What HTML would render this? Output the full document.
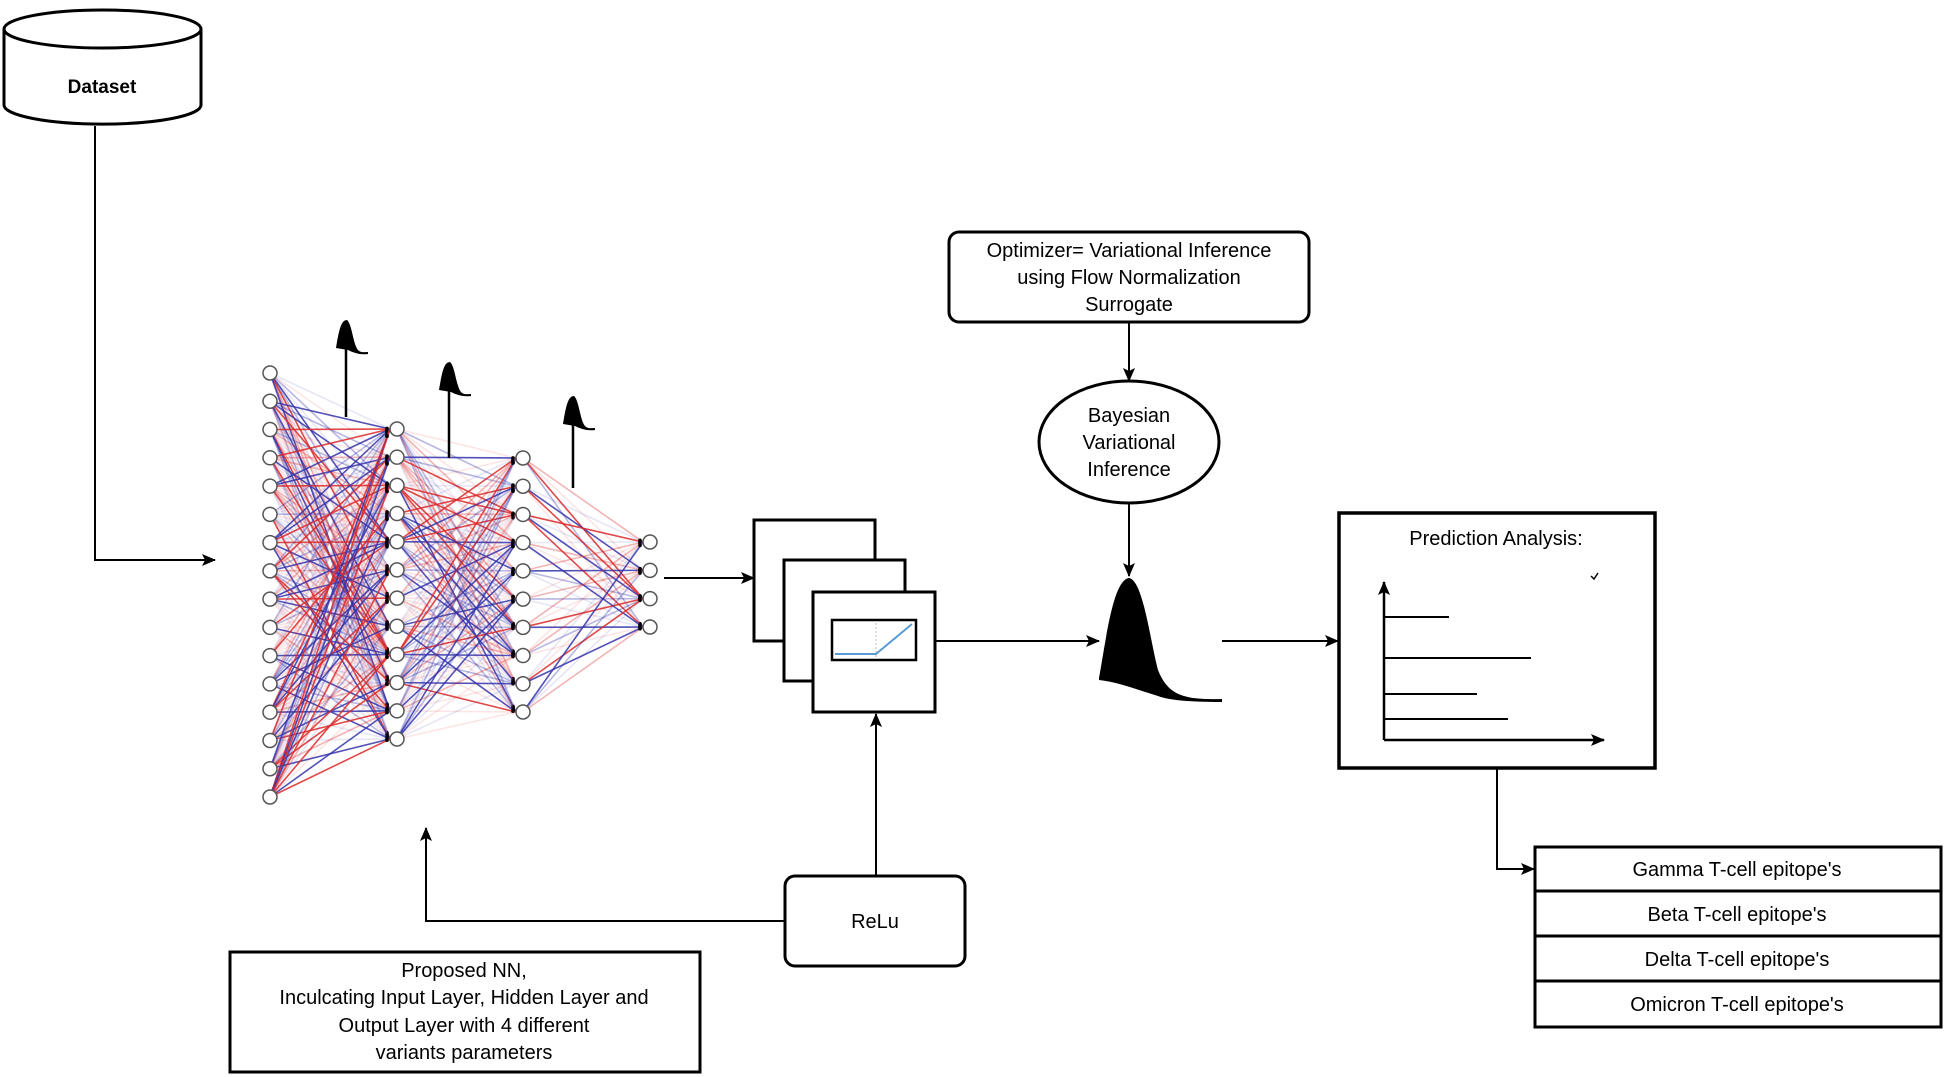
<!DOCTYPE html>
<html><head><meta charset="utf-8"><style>
html,body{margin:0;padding:0;background:#fff;}
svg{display:block;}
text{font-family:"Liberation Sans",sans-serif;fill:#000;}
</style></head><body>
<svg id="s" width="1945" height="1077" viewBox="0 0 1945 1077" xmlns="http://www.w3.org/2000/svg">
<defs>
<marker id="ar" markerWidth="14" markerHeight="12" refX="13" refY="6" orient="auto" markerUnits="userSpaceOnUse">
<path d="M0,0 L14,6 L0,12 L3,6 Z" fill="#000"/></marker>
</defs>
<g transform="translate(-2,0)">
<g id="net"></g>
<path d="M6,29 L6,105 A98,19 0 0 0 203,105 L203,29" fill="#fff" stroke="#000" stroke-width="3"/>
<ellipse cx="104.5" cy="29" rx="98.5" ry="19" fill="#fff" stroke="#000" stroke-width="3"/>
<text x="104" y="93" font-size="19" font-weight="bold" text-anchor="middle">Dataset</text>
<path d="M97,126 L97,560 L217,560" fill="none" stroke="#000" stroke-width="2" marker-end="url(#ar)"/>

<rect x="951" y="232" width="360" height="90" rx="10" fill="#fff" stroke="#000" stroke-width="3"/>
<text x="1131" y="257" font-size="20" text-anchor="middle">Optimizer= Variational Inference</text>
<text x="1131" y="284" font-size="20" text-anchor="middle">using Flow Normalization</text>
<text x="1131" y="311" font-size="20" text-anchor="middle">Surrogate</text>
<path d="M1131,322 L1131,381" stroke="#000" stroke-width="2" marker-end="url(#ar)"/>
<ellipse cx="1131" cy="442" rx="90" ry="61" fill="#fff" stroke="#000" stroke-width="3"/>
<text x="1131" y="422" font-size="20" text-anchor="middle">Bayesian</text>
<text x="1131" y="449" font-size="20" text-anchor="middle">Variational</text>
<text x="1131" y="476" font-size="20" text-anchor="middle">Inference</text>
<path d="M1131,503 L1131,576" stroke="#000" stroke-width="2" marker-end="url(#ar)"/>
<path d="M1101,678 C1108,640 1115,580 1131,578 C1145,580 1152,640 1160,670 C1170,695 1185,700 1224,699 L1224,702 C1190,702 1170,700 1160,696 C1140,690 1120,682 1101,680 Z" fill="#000"/>

<rect x="756" y="520" width="121" height="121" fill="#fff" stroke="#000" stroke-width="3"/>
<rect x="786" y="560" width="121" height="121" fill="#fff" stroke="#000" stroke-width="3"/>
<rect x="815" y="592" width="122" height="120" fill="#fff" stroke="#000" stroke-width="3"/>
<rect x="834" y="620" width="84" height="40" fill="#fff" stroke="#000" stroke-width="2.5"/>
<line x1="878" y1="623" x2="878" y2="657" stroke="#bbb" stroke-width="1" stroke-dasharray="2,2"/>
<path d="M837,654 L878,654 L914,624" fill="none" stroke="#5b9bd5" stroke-width="2"/>
<path d="M666,578 L756,578" stroke="#000" stroke-width="2" marker-end="url(#ar)"/>
<path d="M937,641 L1101,641" stroke="#000" stroke-width="2" marker-end="url(#ar)"/>
<path d="M1224,641 L1340,641" stroke="#000" stroke-width="2" marker-end="url(#ar)"/>

<rect x="1341" y="513" width="316" height="255" fill="#fff" stroke="#000" stroke-width="3.5"/>
<text x="1498" y="545" font-size="20" text-anchor="middle">Prediction Analysis:</text>
<path d="M1593,576 l3,3 l4,-6" fill="none" stroke="#000" stroke-width="1.5"/>
<path d="M1386,740 L1386,582" stroke="#000" stroke-width="2.5" marker-end="url(#ar)"/>
<path d="M1386,740 L1606,740" stroke="#000" stroke-width="2.5" marker-end="url(#ar)"/>
<line x1="1386" y1="617" x2="1451" y2="617" stroke="#000" stroke-width="2"/>
<line x1="1386" y1="658" x2="1533" y2="658" stroke="#000" stroke-width="2"/>
<line x1="1386" y1="694" x2="1479" y2="694" stroke="#000" stroke-width="2"/>
<line x1="1386" y1="719" x2="1510" y2="719" stroke="#000" stroke-width="2"/>
<path d="M1499,768 L1499,869 L1536,869" fill="none" stroke="#000" stroke-width="2" marker-end="url(#ar)"/>

<g stroke="#000" stroke-width="3" fill="#fff">
<rect x="1537" y="847" width="406" height="44"/>
<rect x="1537" y="891" width="406" height="45"/>
<rect x="1537" y="936" width="406" height="45"/>
<rect x="1537" y="981" width="406" height="46"/>
</g>
<text x="1739" y="876" font-size="20" text-anchor="middle">Gamma T-cell epitope's</text>
<text x="1739" y="921" font-size="20" text-anchor="middle">Beta T-cell epitope's</text>
<text x="1739" y="966" font-size="20" text-anchor="middle">Delta T-cell epitope's</text>
<text x="1739" y="1011" font-size="20" text-anchor="middle">Omicron T-cell epitope's</text>

<rect x="787" y="876" width="180" height="90" rx="10" fill="#fff" stroke="#000" stroke-width="3"/>
<text x="877" y="928" font-size="20" text-anchor="middle">ReLu</text>
<path d="M878,876 L878,714" stroke="#000" stroke-width="2" marker-end="url(#ar)"/>
<path d="M787,921 L428,921 L428,828" fill="none" stroke="#000" stroke-width="2" marker-end="url(#ar)"/>

<rect x="232" y="952" width="470" height="120" fill="#fff" stroke="#000" stroke-width="3"/>
<text x="466" y="977" font-size="20" text-anchor="middle">Proposed NN,</text>
<text x="466" y="1004" font-size="20" text-anchor="middle">Inculcating Input Layer, Hidden Layer and</text>
<text x="466" y="1032" font-size="20" text-anchor="middle">Output Layer with 4 different</text>
<text x="466" y="1059" font-size="20" text-anchor="middle">variants parameters</text>
</g>
</svg>
<script>
(function(){
var g=document.getElementById('net'),ns='http://www.w3.org/2000/svg';
var seed=7;function r(){seed=(seed*16807)%2147483647;return seed/2147483647;}
function L(x,n,y0,y1){var a=[];for(var i=0;i<n;i++)a.push([x,n>1?y0+(y1-y0)*i/(n-1):y0]);return a;}
var layers=[L(272,16,373,797),L(399,12,429,739),L(525,10,458,712),L(652,4,542,627)];
var h='';
for(var l=0;l<3;l++){var A=layers[l],B=layers[l+1];
 for(var i=0;i<A.length;i++)for(var j=0;j<B.length;j++){
  var v=r();var red=r()<0.5;var op=v<0.45?0.12:(v<0.75?0.35:0.85);
  var c=red?'rgb(220,40,40)':'rgb(50,50,170)';
  h+='<line x1="'+A[i][0]+'" y1="'+A[i][1]+'" x2="'+(B[j][0]-7)+'" y2="'+B[j][1]+'" stroke="'+c+'" stroke-opacity="'+op+'" stroke-width="1.6"/>';
  if(op>0.3)h+='<circle cx="'+(B[j][0]-10)+'" cy="'+(B[j][1]+(A[i][1]-B[j][1])*0.02)+'" r="1.8" fill="#000"/>';
 }}
layers.forEach(function(La){La.forEach(function(p){h+='<circle cx="'+p[0]+'" cy="'+p[1]+'" r="7" fill="#fff" stroke="#555" stroke-width="1.5"/>';});});
function bell(x,yb,yt){return '<line x1="'+x+'" y1="'+yb+'" x2="'+x+'" y2="'+(yt+14)+'" stroke="#000" stroke-width="2.5"/>'+
 '<path d="M'+(x-10)+','+(yt+28)+' C'+(x-7)+','+(yt+10)+' '+(x-5)+','+yt+' '+(x+1)+','+yt+' C'+(x+6)+','+(yt+4)+' '+(x+7)+','+(yt+24)+' '+(x+12)+','+(yt+30)+' C'+(x+15)+','+(yt+33)+' '+(x+18)+','+(yt+32)+' '+(x+22)+','+(yt+32)+' L'+(x+22)+','+(yt+34)+' C'+(x+14)+','+(yt+35)+' '+(x+8)+','+(yt+33)+' '+(x+2)+','+(yt+30)+' Z" fill="#000"/>';}
h+=bell(348,417,320)+bell(451,458,362)+bell(575,488,396);
g.innerHTML=h;
})();
</script>
</body></html>
